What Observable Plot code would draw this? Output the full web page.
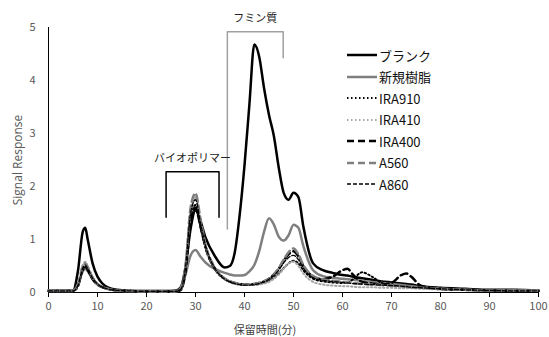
<!DOCTYPE html>
<html><head><meta charset="utf-8">
<script src="https://cdn.jsdelivr.net/npm/d3@7"></script>
<script src="https://cdn.jsdelivr.net/npm/@observablehq/plot@0.6"></script>
<style>
body{margin:0;background:#fff;}
#wrap{position:relative;width:549px;height:337px;font-family:"Noto Sans CJK JP","Noto Sans",sans-serif;overflow:hidden;}
.ttl{position:absolute;color:#404040;font-size:11px;white-space:nowrap;}
#legend{position:absolute;left:346px;top:45px;font-size:13px;color:#111;}
#legend .row{position:absolute;left:0;height:20px;display:flex;align-items:center;white-space:nowrap;}
#legend svg{display:block;margin-right:2px;}
</style></head><body><div id="wrap"></div>
<script>
const time=[0,5,6,7,7.5,8,9,10,11,12, 14,17,20,24,26,27,28,29,30,31, 32,34,36,37,38,39,40,41,42,43, 44,45,46,47,48,49,50,51,52,54, 56,58,60,61,62,64,66,68,70,72, 73,74,76,80,85,90,95,100];
const seriesNames=["ブランク","新規樹脂","IRA910","IRA410","IRA400","A560","A860"];
const blank=[0.04,0.04,0.4,1.15,1.22,1.0,0.55,0.3,0.17,0.1, 0.05,0.03,0.03,0.03,0.04,0.1,0.5,1.2,1.55,1.35, 1.05,0.68,0.47,0.5,0.75,1.45,2.4,3.55,4.68,4.45, 3.85,3.35,2.95,2.35,1.88,1.75,1.88,1.8,1.25,0.55, 0.42,0.37,0.33,0.32,0.3,0.27,0.24,0.21,0.19,0.17, 0.16,0.15,0.12,0.09,0.07,0.05,0.05,0.04];
const shinki=[0.03,0.03,0.15,0.4,0.45,0.4,0.25,0.15,0.1,0.07, 0.04,0.03,0.03,0.03,0.03,0.08,0.35,0.7,0.8,0.68, 0.57,0.44,0.37,0.34,0.32,0.32,0.33,0.4,0.52,0.78, 1.15,1.4,1.28,1.05,0.98,1.08,1.28,1.22,0.88,0.42, 0.31,0.28,0.26,0.25,0.24,0.22,0.2,0.18,0.16,0.14, 0.13,0.12,0.1,0.07,0.05,0.04,0.04,0.04];
const ira910=[0.03,0.03,0.12,0.42,0.48,0.42,0.25,0.15,0.1,0.07, 0.04,0.03,0.02,0.02,0.02,0.05,0.45,1.4,1.65,1.25, 0.85,0.43,0.25,0.2,0.17,0.15,0.14,0.14,0.15,0.16, 0.18,0.22,0.28,0.36,0.46,0.55,0.6,0.55,0.42,0.26, 0.21,0.19,0.18,0.18,0.24,0.38,0.3,0.18,0.13,0.12, 0.11,0.1,0.09,0.06,0.05,0.04,0.03,0.03];
const ira410=[0.03,0.03,0.14,0.52,0.58,0.5,0.3,0.17,0.11,0.07, 0.04,0.03,0.02,0.02,0.02,0.06,0.5,1.5,1.8,1.35, 0.9,0.45,0.25,0.2,0.17,0.15,0.14,0.14,0.14,0.15, 0.17,0.2,0.26,0.34,0.45,0.55,0.58,0.5,0.36,0.2, 0.15,0.13,0.12,0.12,0.11,0.1,0.1,0.09,0.09,0.08, 0.08,0.08,0.07,0.06,0.05,0.04,0.03,0.03];
const ira400=[0.03,0.03,0.12,0.45,0.5,0.43,0.26,0.15,0.1,0.07, 0.04,0.03,0.02,0.02,0.02,0.05,0.42,1.35,1.6,1.25, 0.88,0.45,0.26,0.21,0.18,0.16,0.15,0.15,0.16,0.18, 0.21,0.26,0.34,0.45,0.6,0.72,0.78,0.68,0.5,0.3, 0.25,0.3,0.42,0.45,0.35,0.2,0.17,0.15,0.18,0.33, 0.36,0.3,0.13,0.07,0.05,0.04,0.03,0.03];
const a560=[0.04,0.04,0.14,0.5,0.55,0.48,0.28,0.16,0.1,0.07, 0.04,0.03,0.02,0.02,0.02,0.07,0.55,1.6,1.87,1.4, 0.92,0.46,0.26,0.21,0.18,0.16,0.15,0.15,0.16,0.18, 0.21,0.26,0.34,0.46,0.62,0.76,0.83,0.72,0.52,0.31, 0.25,0.22,0.2,0.19,0.18,0.16,0.15,0.14,0.13,0.12, 0.11,0.1,0.09,0.07,0.05,0.04,0.04,0.03];
const a860=[0.03,0.03,0.13,0.46,0.52,0.45,0.27,0.16,0.1,0.07, 0.04,0.03,0.02,0.02,0.02,0.06,0.5,1.5,1.75,1.32, 0.9,0.45,0.25,0.2,0.17,0.15,0.14,0.14,0.15,0.17, 0.2,0.25,0.32,0.42,0.56,0.66,0.7,0.62,0.46,0.28, 0.23,0.21,0.19,0.18,0.17,0.16,0.15,0.14,0.13,0.12, 0.11,0.1,0.09,0.07,0.05,0.04,0.03,0.03];
const xTicks=[0,10,20,30,40,50,60,70,80,90,100];
const yTicks=[0,1,2,3,4,5];
// annotation brackets: [x, y] in data units
const bioLabel="バイオポリマー";
const bioBracket=[[24,1.42],[24,2.28],[34.8,2.28],[34.8,1.42]];
const huminLabel="フミン質";
const huminBracket=[[36.5,1.2],[36.5,4.92],[47.9,4.92],[47.9,4.43]];

const values=[blank,shinki,ira910,ira410,ira400,a560,a860];
const styles=[
  {stroke:"#000",strokeWidth:2.5,dash:null},
  {stroke:"#7f7f7f",strokeWidth:2.5,dash:null},
  {stroke:"#000",strokeWidth:2,dash:"1.5,2.5"},
  {stroke:"#a6a6a6",strokeWidth:2,dash:"1.5,2.5"},
  {stroke:"#000",strokeWidth:2.5,dash:"7,4"},
  {stroke:"#7f7f7f",strokeWidth:2.5,dash:"7,4"},
  {stroke:"#000",strokeWidth:1.3,dash:"4,2"}
];
const lineMarks=seriesNames.map((name,i)=>{
  const d=time.map((t,j)=>({t,v:values[i][j]}));
  return Plot.line(d,{x:"t",y:"v",stroke:styles[i].stroke,strokeWidth:styles[i].strokeWidth,strokeDasharray:styles[i].dash||undefined,curve:"monotone-x",strokeLinejoin:"round"});
});

const chart=Plot.plot({
  width:549,height:337,marginLeft:48,marginRight:11,marginTop:27,marginBottom:45,
  x:{domain:[0,100]},
  y:{domain:[0,5]},
  style:{fontFamily:'"Noto Sans CJK JP","Noto Sans",sans-serif',fontSize:"11px",background:"white",overflow:"visible"},
  marks:[
    Plot.axisY(yTicks,{tickSize:0,tickPadding:13,label:null,fill:"#595959",fontSize:11,tickFormat:"d"}),
    Plot.axisX(xTicks,{tickSize:5,tickPadding:5,label:null,stroke:"#000",fill:"#595959",fontSize:11,tickFormat:"d"}),
    Plot.ruleX([0],{stroke:"#000"}),
    Plot.ruleY([0],{stroke:"#000"}),
    Plot.line(bioBracket,{x:d=>d[0],y:d=>d[1],stroke:"#000",strokeWidth:1.5,clip:false}),
    Plot.line(huminBracket,{x:d=>d[0],y:d=>d[1],stroke:"#a0a0a0",strokeWidth:1.5,clip:false}),
    Plot.text([bioLabel],{x:29.4,y:2.52,text:d=>d,fill:"#222",fontSize:11}),
    Plot.text([huminLabel],{x:42.2,y:5.17,text:d=>d,fill:"#222",fontSize:11}),
    ...lineMarks
  ]
});
const wrap=document.getElementById("wrap");
wrap.appendChild(chart);

const yt=document.createElement("div");
yt.className="ttl";yt.textContent="Signal Response";
yt.style.cssText+="left:17px;top:160px;font-size:12px;color:#595959;transform:translate(-50%,-50%) rotate(-90deg);font-family:'Open Sans','Noto Sans',sans-serif;";
wrap.appendChild(yt);
const xt=document.createElement("div");
xt.className="ttl";xt.textContent="保留時間(分)";
xt.style.cssText+="left:265px;top:329px;transform:translate(-50%,-50%);color:#404040;";
wrap.appendChild(xt);

const lg=document.createElement("div");lg.id="legend";
const rowY=[0,21.5,43,64.5,86,107.5,129];
seriesNames.forEach((name,i)=>{
  const r=document.createElement("div");r.className="row";r.style.top=rowY[i]+"px";
  const s=styles[i];
  r.innerHTML=`<svg width="31" height="8"><line x1="1" y1="4" x2="31" y2="4" stroke="${s.stroke}" stroke-width="${s.strokeWidth}" ${s.dash?`stroke-dasharray="${s.dash}"`:""}/></svg><span>${name}</span>`;
  lg.appendChild(r);
});
wrap.appendChild(lg);
</script></body></html>
